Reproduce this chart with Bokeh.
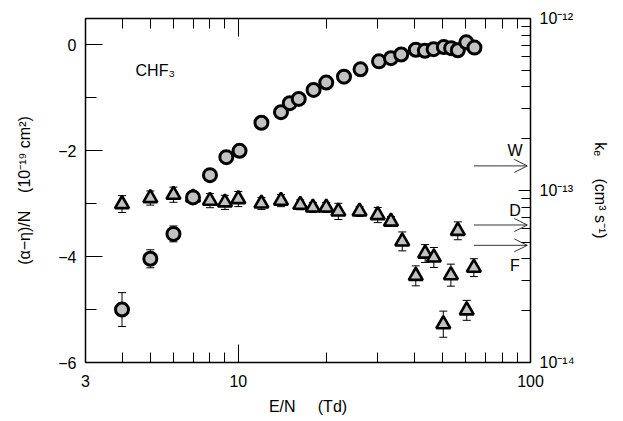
from bokeh.plotting import figure
from bokeh.models import (Range1d, LogScale, LogAxis, FixedTicker, ColumnDataSource,
                          Whisker, TeeHead, Arrow, OpenHead, Label)
from bokeh.embed import file_html
from bokeh.resources import INLINE

# ---- data ----
circ_en = [4.0, 5.0, 6.0, 7.0, 8.0, 9.1, 10.1, 12.0, 14.0, 15.0, 16.1, 18.1, 20.0,
           23.0, 26.2, 30.3, 33.3, 36.1, 40.5, 43.5, 46.6, 50.5, 53.5, 56.4, 60.3, 64.3]
circ_val = [-5.0, -4.04, -3.57, -2.88, -2.46, -2.12, -2.0, -1.47, -1.27, -1.1, -1.02, -0.85,
            -0.71, -0.60, -0.46, -0.31, -0.25, -0.18, -0.09, -0.11, -0.08, -0.04, -0.06,
            -0.10, 0.05, -0.05]
circ_err = [0.32, 0.17, 0.15, 0.05, 0, 0, 0, 0, 0, 0, 0, 0, 0,
            0, 0, 0, 0, 0, 0, 0, 0, 0, 0, 0, 0, 0]

tri_en = [4.0, 5.0, 6.0, 7.0, 8.0, 9.0, 10.0, 12.0, 14.0, 16.3, 18.0, 20.0, 22.0,
          26.0, 30.0, 33.3, 36.4, 40.5, 43.6, 46.7, 50.3, 53.4, 56.4, 60.5, 64.0]
tri_k = [8.34e-14, 9.04e-14, 9.45e-14, 9.12e-14, 8.73e-14, 8.53e-14, 8.92e-14, 8.41e-14,
         8.73e-14, 8.26e-14, 7.97e-14, 7.97e-14, 7.56e-14, 7.56e-14, 7.2e-14, 6.6e-14,
         5.06e-14, 3.19e-14, 4.3e-14, 4.08e-14, 1.67e-14, 3.22e-14, 5.83e-14, 2.01e-14,
         3.56e-14]
tri_err_dex = [0.049, 0.041, 0.044, 0.035, 0.041, 0.041, 0.044, 0.035, 0.035, 0.029,
               0.029, 0.029, 0.047, 0.029, 0.044, 0.029, 0.055, 0.058, 0.052, 0.058,
               0.076, 0.064, 0.052, 0.058, 0.052]

ref_names = ["W", "D", "F"]
ref_k = [1.39e-13, 6.3e-14, 4.8e-14]
ref_label_dy = [15, 15, -20]
ref_start_en = 64.0
ref_end_en = 97.5
ref_label_en = 88.5

X_START, X_END = 3, 100
Y_START, Y_END = -6, 0.5
K_START, K_END = 1e-14, 1e-12

x_major = [3, 10, 100]
x_major_labels = ["3", "10", "100"]
x_minor = [4, 5, 6, 7, 8, 9, 20, 30, 40, 50, 60, 70, 80, 90]
y_major = [-6, -4, -2, 0]
y_minor = [-5, -3, -1]
k_major = [1e-14, 1e-13, 1e-12]
k_major_labels = ["10\u207b\u00b9\u2074", "10\u207b\u00b9\u00b3", "10\u207b\u00b9\u00b2"]
k_minor = [m * d for d in (1e-14, 1e-13) for m in range(2, 10)]

FONT = "Liberation Sans"
FS = "16px"
MARK_FILL = "#c2c2c2"

p = figure(width=615, height=421, x_axis_type="log", x_axis_location=None,
           x_range=(X_START, X_END), y_range=(Y_START, Y_END),
           output_backend="svg", toolbar_location=None,
           min_border_left=85, min_border_right=85, min_border_top=18, min_border_bottom=59,
           extra_y_ranges={"k": Range1d(K_START, K_END)},
           extra_y_scales={"k": LogScale()})
p.grid.visible = False
p.outline_line_color = "black"

# bottom axis
xa = LogAxis(ticker=FixedTicker(ticks=x_major, minor_ticks=x_minor),
             major_label_overrides=dict(zip(x_major, x_major_labels)))
xa.axis_label = "E/N\u00a0\u00a0\u00a0\u00a0\u00a0(Td)"
p.add_layout(xa, "below")

# top axis (ticks only)
ta = LogAxis(ticker=FixedTicker(ticks=x_major, minor_ticks=x_minor))
p.add_layout(ta, "above")

# left axis
ya = p.yaxis[0]
ya.ticker = FixedTicker(ticks=y_major, minor_ticks=y_minor)
ya.axis_label = "(\u03b1\u2212\u03b7)/N\u00a0\u00a0\u00a0\u00a0(10\u207b\u00b9\u2079 cm\u00b2)"

# right axis
ra = LogAxis(y_range_name="k", ticker=FixedTicker(ticks=k_major, minor_ticks=k_minor),
             major_label_overrides=dict(zip(k_major, k_major_labels)))
ra.axis_label = "k\u2091\u00a0\u00a0\u00a0\u00a0\u00a0(cm\u00b3 s\u207b\u00b9)"
p.add_layout(ra, "right")

for ax in [xa, ta, ya, ra]:
    ax.axis_line_color = "black"
    ax.axis_line_width = 1.5
    ax.major_tick_line_color = "black"
    ax.minor_tick_line_color = "black"
    ax.major_tick_out = 0
    ax.minor_tick_out = 0
    ax.major_label_text_font = FONT
    ax.major_label_text_font_size = FS
    ax.major_label_text_color = "black"
    ax.axis_label_text_font = FONT
    ax.axis_label_text_font_size = FS
    ax.axis_label_text_font_style = "normal"
    ax.axis_label_text_color = "black"

ta.major_label_text_color = None
ta.major_label_text_font_size = "1px"
ta.major_label_standoff = 0

xa.major_tick_in = 18
xa.minor_tick_in = 10
ta.major_tick_in = 18
ta.minor_tick_in = 10
ya.major_tick_in = 17
ya.minor_tick_in = 11
ra.major_tick_in = 12
ra.minor_tick_in = 9

xa.major_label_standoff = 12
xa.axis_label_standoff = 8
ya.major_label_standoff = 9
ya.axis_label_standoff = 22
ra.major_label_standoff = 9
ra.axis_label_standoff = 14

# error bars
c_lo = [v - e for v, e in zip(circ_val, circ_err)]
c_hi = [v + e for v, e in zip(circ_val, circ_err)]
csrc = ColumnDataSource(dict(x=circ_en, y=circ_val, lo=c_lo, hi=c_hi))
t_lo = [k * 10 ** (-e) for k, e in zip(tri_k, tri_err_dex)]
t_hi = [k * 10 ** (e) for k, e in zip(tri_k, tri_err_dex)]
tsrc = ColumnDataSource(dict(x=tri_en, y=tri_k, lo=t_lo, hi=t_hi))

cw = Whisker(source=csrc, base="x", lower="lo", upper="hi", line_color="black", line_width=1,
             upper_head=TeeHead(size=8, line_width=1, line_color="black"),
             lower_head=TeeHead(size=8, line_width=1, line_color="black"))
tw = Whisker(source=tsrc, base="x", lower="lo", upper="hi", line_color="black", line_width=1,
             y_range_name="k",
             upper_head=TeeHead(size=8, line_width=1, line_color="black"),
             lower_head=TeeHead(size=8, line_width=1, line_color="black"))
p.add_layout(cw)
p.add_layout(tw)

p.scatter("x", "y", source=tsrc, marker="triangle", size=14, fill_color=MARK_FILL,
          line_color="black", line_width=2.6, y_range_name="k")
p.scatter("x", "y", source=csrc, marker="circle", size=13, fill_color=MARK_FILL,
          line_color="black", line_width=3)

# reference arrows
for name, k, dy in zip(ref_names, ref_k, ref_label_dy):
    p.add_layout(Arrow(x_start=ref_start_en, x_end=ref_end_en, y_start=k, y_end=k,
                       y_range_name="k", line_color="black", line_width=0.8,
                       end=OpenHead(size=13, line_width=0.8, line_color="black")))
    p.add_layout(Label(x=ref_label_en, y=k, y_range_name="k", text=name, y_offset=dy,
                       text_align="center", text_baseline="middle",
                       text_font=FONT, text_font_size=FS, text_color="black"))

p.add_layout(Label(x=4.45, y=-0.48, text="CHF\u2083", text_align="left",
                   text_baseline="middle", text_font=FONT, text_font_size=FS,
                   text_color="black"))

open("out.html", "w").write(file_html(p, INLINE))
